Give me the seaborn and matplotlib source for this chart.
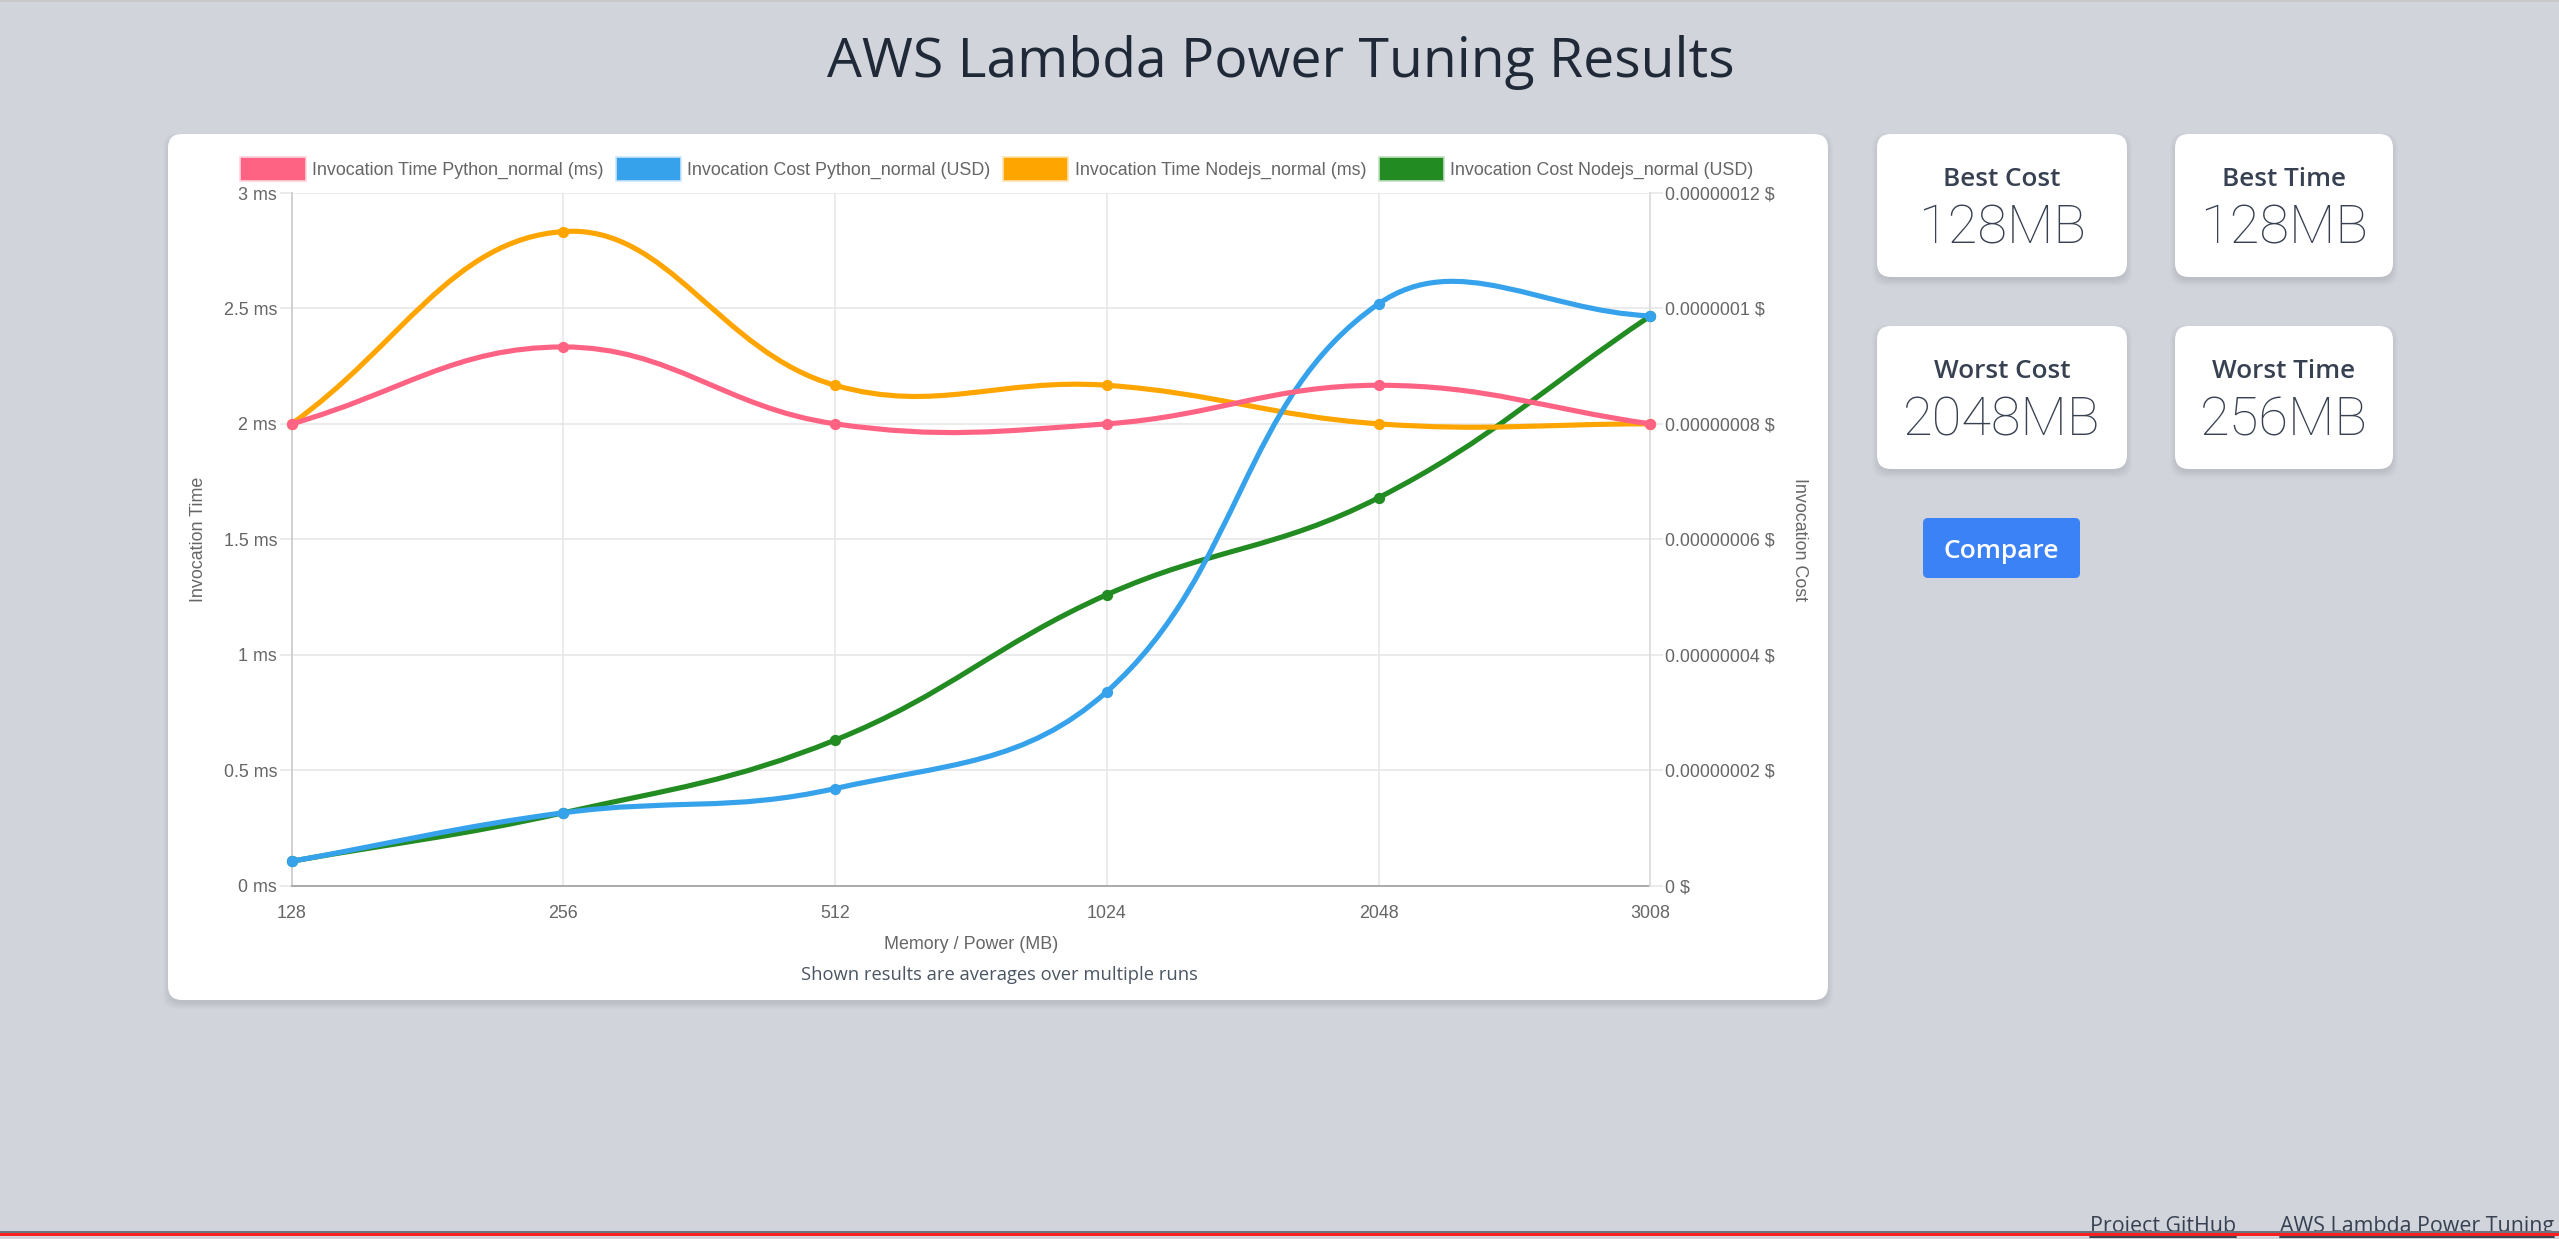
import numpy as np
import pandas as pd
import seaborn as sns
import matplotlib.pyplot as plt
from matplotlib.patches import FancyBboxPatch, Patch, PathPatch, Rectangle
from matplotlib.path import Path

# Values
memory = ['128', '256', '512', '1024', '2048', '3008']
time_python = [2.0, 2.333, 2.0, 2.0, 2.167, 2.0]
time_nodejs = [2.0, 2.833, 2.167, 2.167, 2.0, 2.0]
cost_python = [4.2e-9, 1.26e-8, 1.68e-8, 3.36e-8, 1.008e-7, 9.87e-8]
cost_nodejs = [4.2e-9, 1.26e-8, 2.52e-8, 5.04e-8, 6.72e-8, 9.87e-8]

time_ticks = [0, 0.5, 1, 1.5, 2, 2.5, 3]
time_labels = ['0 ms', '0.5 ms', '1 ms', '1.5 ms', '2 ms', '2.5 ms', '3 ms']
cost_ticks = [0, 2e-8, 4e-8, 6e-8, 8e-8, 1e-7, 1.2e-7]
cost_labels = ['0 $', '0.00000002 $', '0.00000004 $', '0.00000006 $', '0.00000008 $', '0.0000001 $', '0.00000012 $']

series_names = ['Invocation Time Python_normal (ms)', 'Invocation Cost Python_normal (USD)',
                'Invocation Time Nodejs_normal (ms)', 'Invocation Cost Nodejs_normal (USD)']
series_colors = ['#FF6384', '#36A2EB', '#FFA500', '#228B22']
series_edges = ['#FFD3DC', '#CBE6FA', '#FFE3B0', '#C4E0C4']

stats = [('Best Cost', '128MB'), ('Best Time', '128MB'), ('Worst Cost', '2048MB'), ('Worst Time', '256MB')]

W, H = 2559, 1239
PAGE = '#D1D5DB'
INK = '#374151'
CHART_FONT = 'Liberation Sans'
UI_FONT = 'Open Sans'
LIGHT_FONT = 'Roboto'
CHART_SIZE = 12.9

sns.set_theme(style='white')
plt.rcParams['font.family'] = [CHART_FONT, 'DejaVu Sans']

fig = plt.figure(figsize=(W / 100, H / 100), dpi=100, facecolor=PAGE)

# Page layer in pixel coordinates
bg = fig.add_axes([0, 0, 1, 1], zorder=0)
bg.set_xlim(0, W)
bg.set_ylim(H, 0)
bg.axis('off')


def card(x0, y0, x1, y1, radius=14):
    for i in range(7):
        grow = 7 - i
        bg.add_patch(FancyBboxPatch((x0 - grow + 2, y0 - grow + 6), x1 - x0 + 2 * grow - 4, y1 - y0 + 2 * grow - 4,
                                    boxstyle=f'round,pad=0,rounding_size={radius}', fc='#000000', ec='none', alpha=0.012))
    bg.add_patch(FancyBboxPatch((x0, y0), x1 - x0, y1 - y0, boxstyle=f'round,pad=0,rounding_size={radius}',
                                fc='white', ec='none'))


bg.add_patch(Rectangle((0, 0), W, 2, fc='#C8C8C8', ec='none'))
bg.text(1281, 62, 'AWS Lambda Power Tuning Results', ha='center', va='center', fontsize=39.8,
        color='#1F2937', family=UI_FONT)

card(168, 134, 1828, 1000)
card(1877, 134, 2127, 277)
card(2175, 134, 2393, 277)
card(1877, 326, 2127, 469)
card(2175, 326, 2393, 469)

stat_centers = [(2002, 0), (2284, 0), (2002, 192), (2284, 192)]
for (title, value), (cx, dy) in zip(stats, stat_centers):
    bg.text(cx, 179 + dy, title, ha='center', va='center', fontsize=18.8, fontweight='semibold', color=INK, family=UI_FONT)
    bg.text(cx, 229 + dy, value, ha='center', va='center', fontsize=39, fontweight='light', color=INK, family=LIGHT_FONT)

bg.add_patch(FancyBboxPatch((1923, 518), 157, 60, boxstyle='round,pad=0,rounding_size=5', fc='#3B82F6', ec='none'))
bg.text(2001, 551, 'Compare', ha='center', va='center', fontsize=19, fontweight='semibold', color='white', family=UI_FONT)

bg.text(999, 975, 'Shown results are averages over multiple runs', ha='center', va='center', fontsize=13.2,
        color='#4B5563', family=UI_FONT)

# Footer, the red bar runs over the links
bg.text(2163, 1232, 'Project GitHub', ha='center', va='baseline', fontsize=15.4, color=INK, family=UI_FONT)
bg.text(2417, 1232, 'AWS Lambda Power Tuning', ha='center', va='baseline', fontsize=15.4, color=INK, family=UI_FONT)
bg.plot([2090, 2236], [1237, 1237], color=INK, lw=1.4)
bg.plot([2280, 2554], [1237, 1237], color=INK, lw=1.4)
bg.add_patch(Rectangle((0, 1231), W, 2, fc='#6B7280', ec='none', zorder=5))
bg.add_patch(Rectangle((0, 1232.5), W, 3.5, fc='#FF2020', ec='none', zorder=5))

# Chart axes
left, right, top, bottom = 291.6, 1650.4, 193.0, 885.5
pos = [left / W, 1 - bottom / H, (right - left) / W, (bottom - top) / H]

ax = fig.add_axes(pos, zorder=1, facecolor='none')
ax.set_xlim(0, len(memory) - 1)
ax.set_ylim(0, 3)
ax.set_xticks(range(len(memory)), memory)
ax.set_yticks(time_ticks, time_labels)
ax.grid(True, color='#E5E5E5', lw=1.1)
ax.tick_params(axis='both', length=9, width=1.1, color='#E5E5E5', labelcolor='#666666', labelsize=CHART_SIZE, pad=1.5)
ax.tick_params(axis='x', pad=5)
ax.set_xlabel('Memory / Power (MB)', fontsize=CHART_SIZE, color='#666666')
ax.xaxis.set_label_coords(0.5, -0.073)
ax.set_ylabel('Invocation Time', fontsize=CHART_SIZE, color='#666666')
ax.yaxis.set_label_coords(-0.0625, 0.5)
for side in ['top', 'right']:
    ax.spines[side].set_visible(False)
ax.spines['left'].set_color('#CCCCCC')
ax.spines['bottom'].set_color('#AAAAAA')
ax.spines['bottom'].set_linewidth(1.4)

ax_cost = ax.twinx()
ax_cost.set_zorder(1)
ax_cost.patch.set_visible(False)
ax_cost.set_ylim(0, 1.2e-7)
ax_cost.set_yticks(cost_ticks, cost_labels)
ax_cost.grid(False)
ax_cost.tick_params(axis='y', length=9, width=1.1, color='#E5E5E5', labelcolor='#666666', labelsize=CHART_SIZE, pad=1.5)
ax_cost.set_ylabel('Invocation Cost', fontsize=CHART_SIZE, color='#666666', rotation=270)
ax_cost.yaxis.set_label_coords(1.116, 0.5)
for side in ['top', 'left', 'bottom']:
    ax_cost.spines[side].set_visible(False)
ax_cost.spines['right'].set_color('#DDDDDD')


def spline_path(target, values, tension=0.4):
    # same bezier control points the web chart uses, worked out in pixel space
    pts = target.transData.transform(np.column_stack([np.arange(len(values)), values]))
    verts = [pts[0]]
    codes = [Path.MOVETO]
    n = len(pts)
    after = []
    before = []
    for i in range(n):
        prev_pt = pts[max(i - 1, 0)]
        next_pt = pts[min(i + 1, n - 1)]
        d01 = np.hypot(*(pts[i] - prev_pt))
        d12 = np.hypot(*(next_pt - pts[i]))
        total = d01 + d12
        before.append(pts[i] - tension * d01 / total * (next_pt - prev_pt))
        after.append(pts[i] + tension * d12 / total * (next_pt - prev_pt))
    for i in range(n - 1):
        verts += [after[i], before[i + 1], pts[i + 1]]
        codes += [Path.CURVE4] * 3
    return Path(target.transData.inverted().transform(np.array(verts)), codes)


# First dataset ends up on top, so the overlays go from last to first
datasets = [(cost_nodejs, series_colors[3], 1.2e-7), (time_nodejs, series_colors[2], 3),
            (cost_python, series_colors[1], 1.2e-7), (time_python, series_colors[0], 3)]
for k, (values, color, ymax) in enumerate(datasets):
    layer = fig.add_axes(pos, zorder=2 + k, facecolor='none')
    df = pd.DataFrame({'memory': memory, 'value': values})
    sns.scatterplot(data=df, x='memory', y='value', color=color, s=66, linewidth=0, clip_on=False,
                    legend=False, ax=layer, zorder=3)
    layer.set_xlim(0, len(memory) - 1)
    layer.set_ylim(0, ymax)
    layer.axis('off')
    layer.add_patch(PathPatch(spline_path(layer, values), fill=False, ec=color, lw=3.7, clip_on=False, zorder=2))

handles = [Patch(fc=c, ec=e, lw=1.2) for c, e in zip(series_colors, series_edges)]
fig.legend(handles, series_names, ncol=4, loc='center', bbox_to_anchor=(997 / W, 1 - 169 / H), frameon=False,
           fontsize=CHART_SIZE, labelcolor='#666666', borderpad=0, handlelength=3.63, handleheight=1.6,
           handletextpad=0.36, columnspacing=0.7, borderaxespad=0)

plt.savefig('out.png', dpi=100, facecolor=fig.get_facecolor())
